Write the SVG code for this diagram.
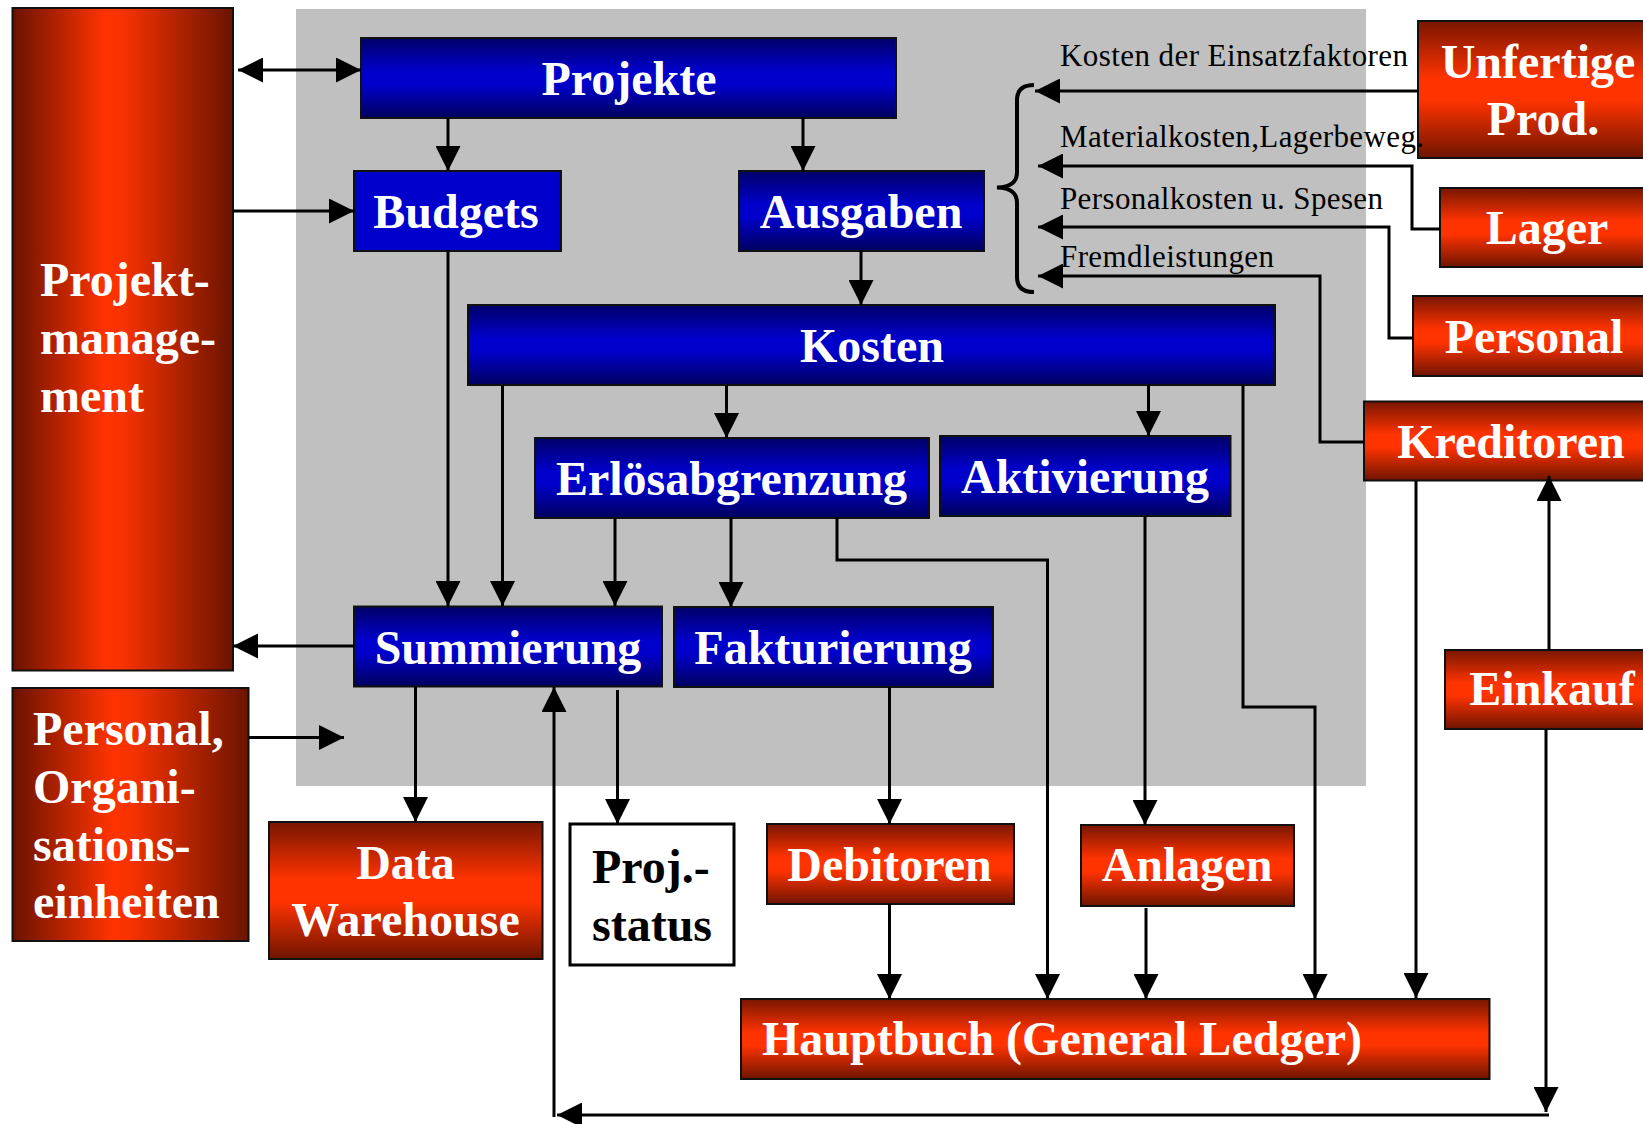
<svg xmlns="http://www.w3.org/2000/svg" width="1643" height="1124" viewBox="0 0 1643 1124">
<defs>
<linearGradient id="blueV" x1="0" y1="0" x2="0" y2="1">
<stop offset="0" stop-color="#000068"/><stop offset="0.42" stop-color="#0000CC"/><stop offset="0.58" stop-color="#0000CC"/><stop offset="1" stop-color="#00005E"/>
</linearGradient>
<linearGradient id="redV" x1="0" y1="0" x2="0" y2="1">
<stop offset="0" stop-color="#781600"/><stop offset="0.42" stop-color="#FF3300"/><stop offset="0.58" stop-color="#FF3300"/><stop offset="1" stop-color="#6E1400"/>
</linearGradient>
<linearGradient id="redH" x1="0" y1="0" x2="1" y2="0">
<stop offset="0" stop-color="#6A1200"/><stop offset="0.42" stop-color="#FF3300"/><stop offset="0.5" stop-color="#F83200"/><stop offset="1" stop-color="#6A1400"/>
</linearGradient>
<marker id="ah" markerUnits="userSpaceOnUse" markerWidth="25" markerHeight="25" refX="25" refY="12.5" orient="auto-start-reverse" viewBox="0 0 25 25">
<path d="M0,0 L25,12.5 L0,25 Z" fill="#000"/>
</marker>
</defs>
<style>
.box{stroke:#111;stroke-width:2}
.blue{fill:url(#blueV)}
.red{fill:url(#redV)}
.redh{fill:url(#redH)}
.t{font-family:"Liberation Serif","Times New Roman",serif;font-weight:bold;font-size:48px;fill:#fff}
.tc{text-anchor:middle}
.lbl{font-family:"Liberation Serif","Times New Roman",serif;font-size:31px;fill:#000}
.c{fill:none;stroke:#000;stroke-width:3}
.a{marker-end:url(#ah)}
</style>
<rect x="296" y="9" width="1070" height="777" fill="#C0C0C0"/>

<g id="projektmanagement"><rect class="box redh" x="12.5" y="8" width="220.5" height="662.5"/>
<text class="t" x="40" y="296">Projekt-</text><text class="t" x="40" y="354">manage-</text><text class="t" x="40" y="412">ment</text></g>
<g id="personal-org"><rect class="box redh" x="12.5" y="688" width="236" height="253"/>
<text class="t" x="33" y="745">Personal,</text><text class="t" x="33" y="803">Organi-</text><text class="t" x="33" y="861">sations-</text><text class="t" x="33" y="918">einheiten</text></g>
<g id="projekte"><rect class="box blue" x="361" y="38" width="535" height="80"/><text class="t tc" x="629" y="95">Projekte</text></g>
<g id="budgets"><rect class="box" fill="#0000CC" x="354" y="171" width="207" height="80"/><text class="t tc" x="456" y="228">Budgets</text></g>
<g id="ausgaben"><rect class="box blue" x="739" y="171" width="245" height="80"/><text class="t tc" x="861" y="228">Ausgaben</text></g>
<g id="kosten"><rect class="box blue" x="468" y="305" width="807" height="80"/><text class="t tc" x="872" y="362">Kosten</text></g>
<g id="erloesabgrenzung"><rect class="box blue" x="535" y="438" width="394" height="80"/><text class="t tc" x="731.5" y="495">Erlösabgrenzung</text></g>
<g id="aktivierung"><rect class="box blue" x="940" y="436" width="290.5" height="80"/><text class="t tc" x="1085" y="493">Aktivierung</text></g>
<g id="summierung"><rect class="box blue" x="354" y="606.5" width="308" height="80"/><text class="t tc" x="508" y="664">Summierung</text></g>
<g id="fakturierung"><rect class="box blue" x="674" y="607" width="319" height="80"/><text class="t tc" x="833" y="664">Fakturierung</text></g>
<g id="data-warehouse"><rect class="box red" x="269" y="822" width="273.5" height="137"/>
<text class="t tc" x="405.5" y="879">Data</text><text class="t tc" x="405.5" y="936">Warehouse</text></g>
<g id="proj-status"><rect x="570" y="824" width="164" height="141" fill="#fff" stroke="#000" stroke-width="3"/>
<text class="t" style="fill:#000" x="592" y="883">Proj.-</text><text class="t" style="fill:#000" x="592" y="941">status</text></g>
<g id="debitoren"><rect class="box red" x="767" y="824" width="247" height="80"/><text class="t tc" x="889.5" y="881">Debitoren</text></g>
<g id="anlagen"><rect class="box red" x="1081" y="825" width="213" height="81"/><text class="t tc" x="1187" y="881">Anlagen</text></g>
<g id="hauptbuch"><rect class="box red" x="741" y="999" width="748.5" height="80"/><text class="t" x="762" y="1055">Hauptbuch (General Ledger)</text></g>
<g id="unfertige-prod"><rect class="box red" x="1418" y="21" width="260" height="137"/>
<text class="t tc" x="1538" y="78">Unfertige</text><text class="t tc" x="1543" y="135">Prod.</text></g>
<g id="lager"><rect class="box red" x="1440" y="188" width="240" height="79"/><text class="t tc" x="1547" y="244">Lager</text></g>
<g id="personal"><rect class="box red" x="1413" y="296" width="260" height="80"/><text class="t tc" x="1534" y="353">Personal</text></g>
<g id="kreditoren"><rect class="box red" x="1364" y="401.5" width="300" height="79"/><text class="t tc" x="1511" y="458">Kreditoren</text></g>
<g id="einkauf"><rect class="box red" x="1445" y="650" width="220" height="79"/><text class="t tc" x="1552" y="705">Einkauf</text></g>

<g id="labels">
<text class="lbl" x="1060" y="66" textLength="348" lengthAdjust="spacing">Kosten der Einsatzfaktoren</text>
<text class="lbl" x="1060" y="147" textLength="364" lengthAdjust="spacing">Materialkosten,Lagerbeweg.</text>
<text class="lbl" x="1060" y="209" textLength="323" lengthAdjust="spacing">Personalkosten u. Spesen</text>
<text class="lbl" x="1060" y="267" textLength="214" lengthAdjust="spacing">Fremdleistungen</text>
</g>

<g id="connectors">
<path class="c a" style="marker-start:url(#ah)" d="M238,70 L361,70"/>
<path class="c a" d="M233,211 L354,211"/>
<path class="c a" d="M448,118 L448,171"/>
<path class="c a" d="M803,118 L803,171"/>
<path class="c a" d="M861,251 L861,305"/>
<path class="c a" d="M448,251 L448,606"/>
<path class="c a" d="M502.5,385 L502.5,606"/>
<path class="c a" d="M726.5,385 L726.5,438"/>
<path class="c a" d="M1148.5,385 L1148.5,436"/>
<path class="c a" d="M615,518 L615,606"/>
<path class="c a" d="M731,518 L731,607"/>
<path class="c a" d="M837,518 L837,560 L1047.5,560 L1047.5,999"/>
<path class="c a" d="M1145,516 L1145,825"/>
<path class="c a" d="M1243,385 L1243,707 L1315,707 L1315,999"/>
<path class="c a" d="M354,646 L233,646"/>
<path class="c a" d="M249,737.5 L344,737.5"/>
<path class="c a" d="M415.5,686 L415.5,822"/>
<path class="c a" d="M617.5,690 L617.5,824"/>
<path class="c a" d="M889.5,687 L889.5,824"/>
<path class="c a" d="M889.5,904 L889.5,999"/>
<path class="c a" d="M1146,908 L1146,999"/>
<path class="c a" d="M1416,481 L1416,998"/>
<path class="c a" d="M1549,650 L1549,476"/>
<path class="c a" d="M1546,729 L1546,1112"/>
<path class="c a" d="M1549,1115 L557,1115"/>
<path class="c a" d="M554,1117 L554,687"/>
<path class="c a" d="M1418,91 L1035,91"/>
<path class="c a" d="M1440,229 L1412,229 L1412,166 L1038,166"/>
<path class="c a" d="M1413,338 L1389,338 L1389,227 L1038,227"/>
<path class="c a" d="M1364,442 L1320,442 L1320,276 L1038,276"/>
<path fill="none" stroke="#000" stroke-width="4" d="M1034,85 C1023,85 1017,90 1017,100 L1017,172 C1017,182 1011,187 997,187.5 C1011,188 1017,193 1017,203 L1017,277 C1017,287 1023,292 1034,292"/>
</g>
</svg>
